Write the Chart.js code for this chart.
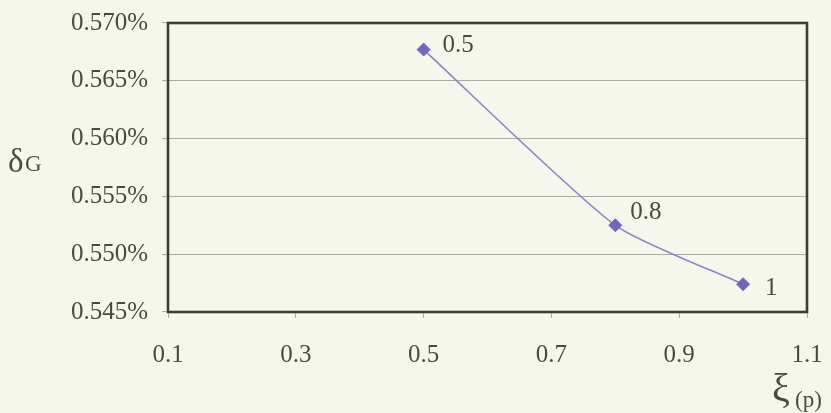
<!DOCTYPE html>
<html>
<head>
<meta charset="utf-8">
<script src="https://cdn.jsdelivr.net/npm/chart.js@4"></script>
<style>
  html, body { margin: 0; padding: 0; background: #f6f7ec; }
  #wrap { width: 831px; height: 413px; }
</style>
</head>
<body>
<div id="wrap"><canvas id="c" width="831" height="413"></canvas></div>
<script>
// ξ(p) values and the resulting δG (in percent)
const xiValues = [0.5, 0.8, 1.0];
const deltaG = [0.5677, 0.5525, 0.5474];
const pointLabels = ['0.5', '0.8', '1'];
const xTicks = [0.1, 0.3, 0.5, 0.7, 0.9, 1.1];
const yTicks = [0.545, 0.550, 0.555, 0.560, 0.565, 0.570];

const textColor = '#4a4a42';
const serif = '"Liberation Serif", "Times New Roman", serif';

// frame around the plot area
const framePlugin = {
  id: 'frame',
  afterDatasetsDraw(chart) {
    const { ctx, chartArea: a } = chart;
    ctx.save();
    ctx.strokeStyle = '#3e3e34';
    ctx.lineWidth = 2.6;
    ctx.strokeRect(a.left, a.top, a.right - a.left, a.bottom - a.top);
    ctx.restore();
  }
};

// value labels beside each marker
const labelPlugin = {
  id: 'pointText',
  afterDatasetsDraw(chart, args, opts) {
    const { ctx } = chart;
    const meta = chart.getDatasetMeta(0);
    ctx.save();
    ctx.fillStyle = textColor;
    ctx.font = '25px ' + serif;
    ctx.textBaseline = 'middle';
    ctx.textAlign = 'left';
    meta.data.forEach((pt, i) => {
      const off = opts.offsets[i];
      ctx.fillText(pointLabels[i], pt.x + off[0], pt.y + off[1]);
    });
    ctx.restore();
  }
};

// axis titles: δG and ξ(p)
const axisTitlePlugin = {
  id: 'axisTitles',
  afterDraw(chart) {
    const { ctx } = chart;
    ctx.save();
    ctx.fillStyle = textColor;
    ctx.textBaseline = 'alphabetic';
    ctx.textAlign = 'left';
    ctx.font = '33px ' + serif;
    ctx.fillText('δ', 8, 172);
    ctx.font = '23px ' + serif;
    ctx.fillText('G', 25, 171);
    ctx.font = '40px ' + serif;
    ctx.fillText('ξ', 772, 401);
    ctx.font = '23px ' + serif;
    ctx.fillText('(p)', 795, 407);
    ctx.restore();
  }
};

new Chart(document.getElementById('c'), {
  type: 'scatter',
  data: {
    datasets: [{
      data: xiValues.map((x, i) => ({ x, y: deltaG[i] })),
      showLine: true,
      borderColor: '#8587c6',
      borderWidth: 1.6,
      tension: 0.2,
      pointStyle: 'rectRot',
      pointRadius: 6.5,
      pointBackgroundColor: '#7565b8',
      pointBorderColor: '#7565b8',
      pointBorderWidth: 1
    }]
  },
  options: {
    responsive: false,
    animation: false,
    devicePixelRatio: 1,
    layout: { padding: { left: 0, right: 24, top: 23, bottom: 0 } },
    plugins: {
      legend: { display: false },
      tooltip: { enabled: false },
      pointText: { offsets: [[19, -4], [15, -13], [22, 4]] }
    },
    scales: {
      x: {
        type: 'linear',
        min: 0.1,
        max: 1.1,
        afterBuildTicks(scale) { scale.ticks = xTicks.map(v => ({ value: v })); },
        afterFit(scale) {
          scale.height = 101;
          scale.paddingLeft = 0;
          scale.paddingRight = 0;
        },
        ticks: {
          color: textColor,
          font: { family: serif, size: 25 },
          padding: 22,
          callback: v => v.toFixed(1)
        },
        grid: { drawOnChartArea: false, drawTicks: true, tickLength: 6, color: '#b0b0a4' },
        border: { display: false }
      },
      y: {
        type: 'linear',
        min: 0.545,
        max: 0.570,
        afterBuildTicks(scale) { scale.ticks = yTicks.map(v => ({ value: v })); },
        afterFit(scale) {
          scale.width = 168;
          scale.paddingTop = 0;
          scale.paddingBottom = 0;
        },
        ticks: {
          color: textColor,
          font: { family: serif, size: 25 },
          padding: 14,
          callback: v => v.toFixed(3) + '%'
        },
        grid: { color: '#acaca2', lineWidth: 1.1, tickLength: 6 },
        border: { display: false }
      }
    }
  },
  plugins: [framePlugin, labelPlugin, axisTitlePlugin]
});
</script>
</body>
</html>
